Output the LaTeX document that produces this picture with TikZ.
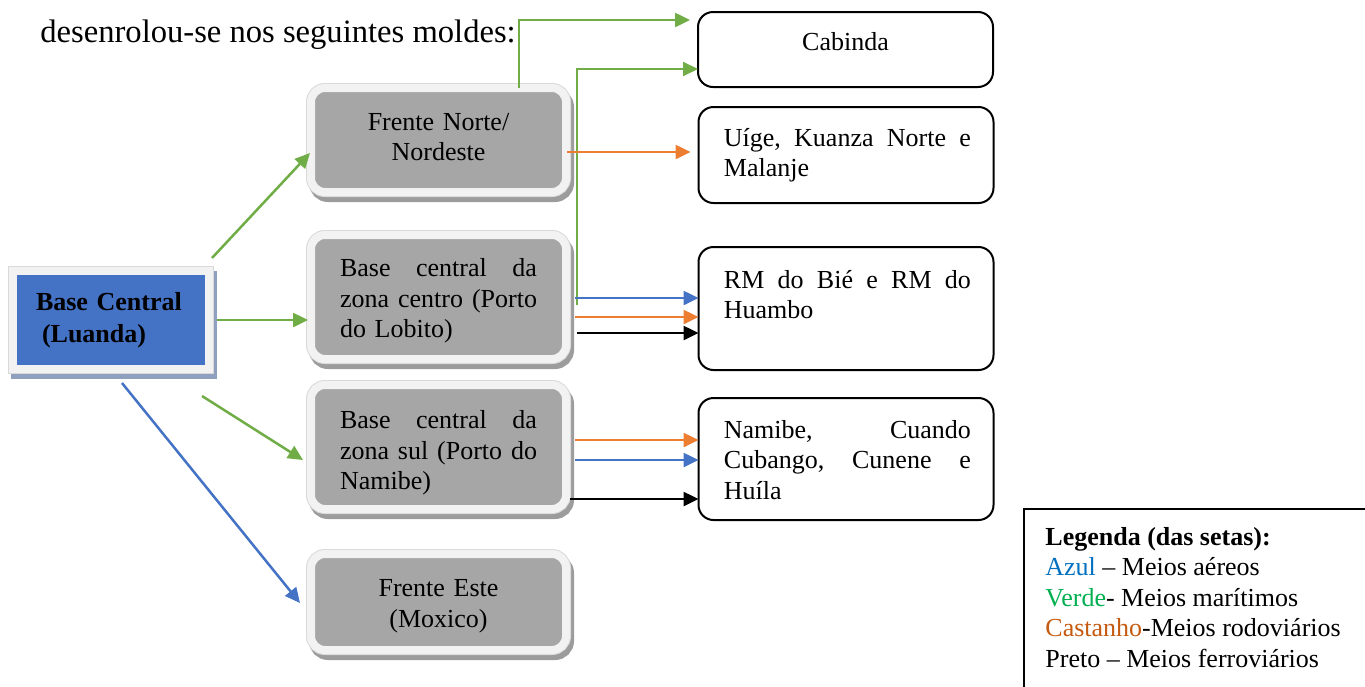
\documentclass[tikz,border=0pt]{standalone}
\usepackage{fontspec}
\setmainfont{Liberation Serif}
\usetikzlibrary{arrows.meta}

\definecolor{luandablue}{HTML}{4472C4}
\definecolor{baseshadow}{HTML}{8EA0BE}
\definecolor{boxgray}{HTML}{A6A6A6}
\definecolor{framegray}{HTML}{F2F2F2}
\definecolor{edgegray}{HTML}{D9D9D9}
\definecolor{shadowgray}{HTML}{9C9C9C}
\definecolor{seagreen}{HTML}{70AD47}
\definecolor{airblue}{HTML}{4472C4}
\definecolor{roadorange}{HTML}{ED7D31}
\definecolor{azul}{HTML}{0070C0}
\definecolor{verde}{HTML}{00B050}
\definecolor{castanho}{HTML}{C55A11}

\begin{document}
\begin{tikzpicture}[x=0.5pt,y=-0.5pt,
font=\fontsize{13}{15.25}\selectfont,
baseblock/.style={rectangle,outer sep=0pt,inner sep=0pt,
  preaction={draw=baseshadow,fill=baseshadow,line width=5pt,transform canvas={shift={(1.5pt,-2.5pt)}}},
  preaction={draw=edgegray,line width=5pt},
  draw=framegray,line width=4pt,fill=luandablue,
  minimum width=98pt,minimum height=49pt,text width=75pt,align=left,
  font=\fontsize{13}{16}\selectfont\bfseries},
frontblock/.style={rectangle,rounded corners=7pt,outer sep=0pt,inner sep=0pt,
  preaction={draw=shadowgray,fill=shadowgray,line width=5pt,transform canvas={shift={(1.5pt,-2.5pt)}}},
  preaction={draw=edgegray,line width=5pt},
  draw=framegray,line width=4pt,fill=boxgray,
  minimum width=127.5pt,text width=98.5pt},
destblock/.style={draw,rectangle,rounded corners=7.5pt,line width=1pt,fill=white,
  outer sep=0pt,minimum width=147.5pt},
desttext/.style={anchor=north west,inner sep=0pt,text width=123.5pt,align=left},
arrowline/.style={line width=1.25pt,-{Triangle[length=7.5pt,width=7pt]}},
sea/.style={arrowline,draw=seagreen},
air/.style={arrowline,draw=airblue},
road/.style={arrowline,draw=roadorange},
rail/.style={arrowline,draw=black}]

\useasboundingbox (0,0) rectangle (1365,686);

\draw (40,42) node[anchor=base west,inner sep=0pt,font=\fontsize{16.3}{19}\selectfont] (intro) {desenrolou-se nos seguintes moldes:};

% bases e frentes
\draw (111,320) node[baseblock] (base) {Base Central\\\hspace*{3pt}(Luanda)};
\draw (438.5,140) node[frontblock,minimum height=52pt,align=center] (norte) {Frente Norte/\\Nordeste\rule[-3pt]{0pt}{3pt}};
\draw (438.5,297) node[frontblock,minimum height=62pt,align=left] (centro) {\rule{0pt}{12.9pt}Base \hfill central \hfill da\\zona \hfill centro \hfill (Porto\\do Lobito)};
\draw (438.5,447) node[frontblock,minimum height=62pt,align=left] (sul) {\rule{0pt}{14.9pt}Base \hfill central \hfill da\\zona \hfill sul \hfill (Porto \hfill do\\Namibe)};
\draw (438.5,602) node[frontblock,minimum height=48pt,align=center] (este) {\rule{0pt}{12.9pt}Frente Este\\(Moxico)};

% destinos
\draw (845.5,49.5) node[destblock,minimum height=37.5pt] (cabinda) {};
\draw (846,155) node[destblock,minimum height=48pt] (uige) {};
\draw (846,308.5) node[destblock,minimum height=61.5pt] (bie) {};
\draw (846,459) node[destblock,minimum height=61pt] (namibe) {};
\node[anchor=base,inner sep=0pt] (cabinda-t) at ([yshift=-19pt]cabinda.north) {Cabinda};
\node[desttext] (uige-t) at ([shift={(12.5pt,-10.5pt)}]uige.north west) {Uíge, \hfill Kuanza \hfill Norte \hfill e\\Malanje};
\node[desttext] (bie-t) at ([shift={(12.5pt,-11.5pt)}]bie.north west) {RM \hfill do \hfill Bié \hfill e \hfill RM \hfill do\\Huambo};
\node[desttext] (namibe-t) at ([shift={(12.5pt,-11pt)}]namibe.north west) {Namibe, \hfill Cuando\\Cubango, \hfill Cunene \hfill e\\Huíla};

% setas da base central
\draw[sea] ([shift={(1.5pt,6.5pt)}]base.north east) -- ([shift={(-0.5pt,-6.5pt)}]norte.west);
\draw[sea,shorten <=4pt,shorten >=1.5pt] (base.east) -- (base.east -| centro.west);
\draw[sea] ([shift={(-3.5pt,-13.5pt)}]base.south east) -- ([shift={(-4pt,-6.5pt)}]sul.west);
\draw[air] ([shift={(5.5pt,-7pt)}]base.south) -- ([shift={(-5.5pt,-0.5pt)}]este.west);

% setas das frentes
\draw[sea] ([xshift=40.25pt]norte.north) |- ([shift={(-4pt,-4pt)}]cabinda.north west);
\draw[sea,line width=1pt] ([shift={(5.5pt,-4pt)}]centro.east) |- ([yshift=9pt]cabinda.south west);
\draw[road,shorten <=0.5pt,shorten >=4pt] ([yshift=-6pt]norte.east) -- ([yshift=-6pt]norte.east -| uige.west);

\draw[air,shorten <=4.5pt] ([yshift=-0.5pt]centro.east) -- ([yshift=-0.5pt]centro.east -| bie.west);
\draw[road,shorten <=4.5pt] ([yshift=-10pt]centro.east) -- ([yshift=-10pt]centro.east -| bie.west);
\draw[rail,shorten <=5.5pt] ([yshift=-18pt]centro.east) -- ([yshift=-18pt]centro.east -| bie.west);

\draw[road,shorten <=4.5pt] ([yshift=3.5pt]sul.east) -- ([yshift=3.5pt]sul.east -| namibe.west);
\draw[air,shorten <=4.5pt] ([yshift=-6.5pt]sul.east) -- ([yshift=-6.5pt]sul.east -| namibe.west);
\draw[rail,shorten <=2pt] ([yshift=-26pt]sul.east) -- ([yshift=-26pt]sul.east -| namibe.west);

% legenda
\draw (1024,509) node[draw,line width=0.75pt,anchor=north west,outer sep=0pt,minimum width=200pt,minimum height=100pt] (legenda) {};
\node[anchor=north west,inner sep=0pt,align=left] (legenda-t) at ([shift={(10.5pt,-9pt)}]legenda.north west) {\textbf{Legenda (das setas):}\\\textcolor{azul}{Azul} – Meios aéreos\\\textcolor{verde}{Verde}- Meios marítimos\\\textcolor{castanho}{Castanho}-Meios rodoviários\\Preto – Meios ferroviários};

\end{tikzpicture}
\end{document}
